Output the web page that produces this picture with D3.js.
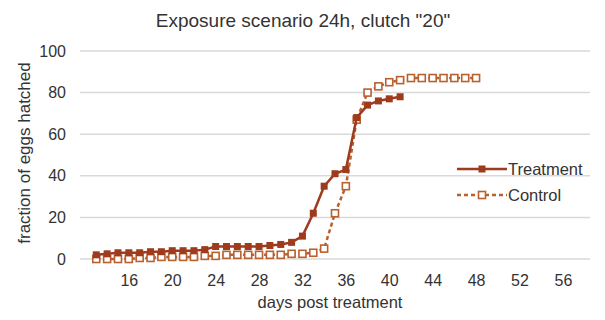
<!DOCTYPE html>
<html>
<head>
<meta charset="utf-8">
<script src="https://cdn.jsdelivr.net/npm/d3@7/dist/d3.min.js"></script>
<style>
  html, body { margin: 0; padding: 0; background: #fff; }
  svg { display: block; font-family: "Liberation Sans", Arial, sans-serif; }
</style>
</head>
<body>
<svg id="chart" width="605" height="320"></svg>
<script>
// Hatching data, clutch "20", 24h exposure
const treatmentDays = d3.range(13, 42);
const treatmentValues = [2, 2.5, 3, 3, 3, 3.5, 3.5, 4, 4, 4, 4.5, 6, 6, 6, 6, 6, 6.5, 7, 8, 11,
  22, 35, 41, 43, 68, 74, 76, 77, 78];
const controlDays = d3.range(13, 49);
const controlValues = [0, 0, 0, 0, 0.5, 0.5, 1, 1, 1, 1, 1.5, 1.5, 2, 2, 2, 2, 2, 2, 2.5, 2.5,
  3, 5, 22, 35, 67, 80, 83, 85, 86, 87, 87, 87, 87, 87, 87, 87];
const xTicks = [16, 20, 24, 28, 32, 36, 40, 44, 48, 52, 56];
const yTicks = [0, 20, 40, 60, 80, 100];

const treatmentColor = "#9e3b1d";
const controlColor = "#b9602f";
const textColor = "#333333";
const fontFamily = "Liberation Sans, Arial, sans-serif";

const svg = d3.select("#chart");
const x = d3.scaleLinear().domain([11.5, 58.5]).range([80, 590]);
const y = d3.scaleLinear().domain([0, 100]).range([259, 51]);

// title
svg.append("text").attr("x", 303).attr("y", 27).attr("text-anchor", "middle")
  .attr("font-size", 19).attr("fill", textColor)
  .text('Exposure scenario 24h, clutch "20"');

// horizontal gridlines
svg.append("g").selectAll("line").data(yTicks).join("line")
  .attr("x1", x.range()[0]).attr("x2", x.range()[1])
  .attr("y1", d => y(d)).attr("y2", d => y(d))
  .attr("stroke", "#d9d9d9").attr("stroke-width", 1.5);

// y axis labels
const yAxis = d3.axisLeft(y).tickValues(yTicks).tickSize(0).tickPadding(0);
svg.append("g").attr("transform", "translate(66,0)").call(yAxis)
  .call(g => g.select(".domain").remove())
  .call(g => g.selectAll("text").attr("font-size", 16).attr("fill", textColor)
    .attr("font-family", fontFamily));

// x axis labels
const xAxis = d3.axisBottom(x).tickValues(xTicks).tickSize(0).tickPadding(0);
svg.append("g").attr("transform", "translate(0,275)").call(xAxis)
  .call(g => g.select(".domain").remove())
  .call(g => g.selectAll("text").attr("font-size", 16).attr("fill", textColor)
    .attr("font-family", fontFamily));

// axis titles
svg.append("text").attr("x", 330).attr("y", 308).attr("text-anchor", "middle")
  .attr("font-size", 16.5).attr("fill", textColor).text("days post treatment");
svg.append("text").attr("transform", "translate(30,153) rotate(-90)")
  .attr("text-anchor", "middle").attr("font-size", 17).attr("fill", textColor)
  .text("fraction of eggs hatched");

const line = d3.line().x(d => x(d[0])).y(d => y(d[1]));
const treatment = treatmentDays.map((d, i) => [d, treatmentValues[i]]);
const control = controlDays.map((d, i) => [d, controlValues[i]]);

// control series: dashed line, hollow squares
svg.append("path").datum(control).attr("d", line).attr("fill", "none")
  .attr("stroke", controlColor).attr("stroke-width", 2.5).attr("stroke-dasharray", "4,3");
svg.append("g").selectAll("rect").data(control).join("rect")
  .attr("x", d => x(d[0]) - 3.5).attr("y", d => y(d[1]) - 3.5)
  .attr("width", 7).attr("height", 7)
  .attr("fill", "#fff").attr("stroke", controlColor).attr("stroke-width", 1.6);

// treatment series: solid line, filled squares
svg.append("path").datum(treatment).attr("d", line).attr("fill", "none")
  .attr("stroke", treatmentColor).attr("stroke-width", 2.5);
svg.append("g").selectAll("rect").data(treatment).join("rect")
  .attr("x", d => x(d[0]) - 3.5).attr("y", d => y(d[1]) - 3.5)
  .attr("width", 7).attr("height", 7)
  .attr("fill", treatmentColor);

// legend
const legend = svg.append("g");
legend.append("line").attr("x1", 457).attr("x2", 507).attr("y1", 169).attr("y2", 169)
  .attr("stroke", treatmentColor).attr("stroke-width", 2.5);
legend.append("rect").attr("x", 478.5).attr("y", 165.5).attr("width", 7).attr("height", 7)
  .attr("fill", treatmentColor);
legend.append("text").attr("x", 508).attr("y", 175).attr("font-size", 16.5)
  .attr("fill", textColor).text("Treatment");
legend.append("line").attr("x1", 457).attr("x2", 507).attr("y1", 195).attr("y2", 195)
  .attr("stroke", controlColor).attr("stroke-width", 2.5).attr("stroke-dasharray", "4,3");
legend.append("rect").attr("x", 478.5).attr("y", 191.5).attr("width", 7).attr("height", 7)
  .attr("fill", "#fff").attr("stroke", controlColor).attr("stroke-width", 1.6);
legend.append("text").attr("x", 508).attr("y", 201).attr("font-size", 16.5)
  .attr("fill", textColor).text("Control");
</script>
</body>
</html>
